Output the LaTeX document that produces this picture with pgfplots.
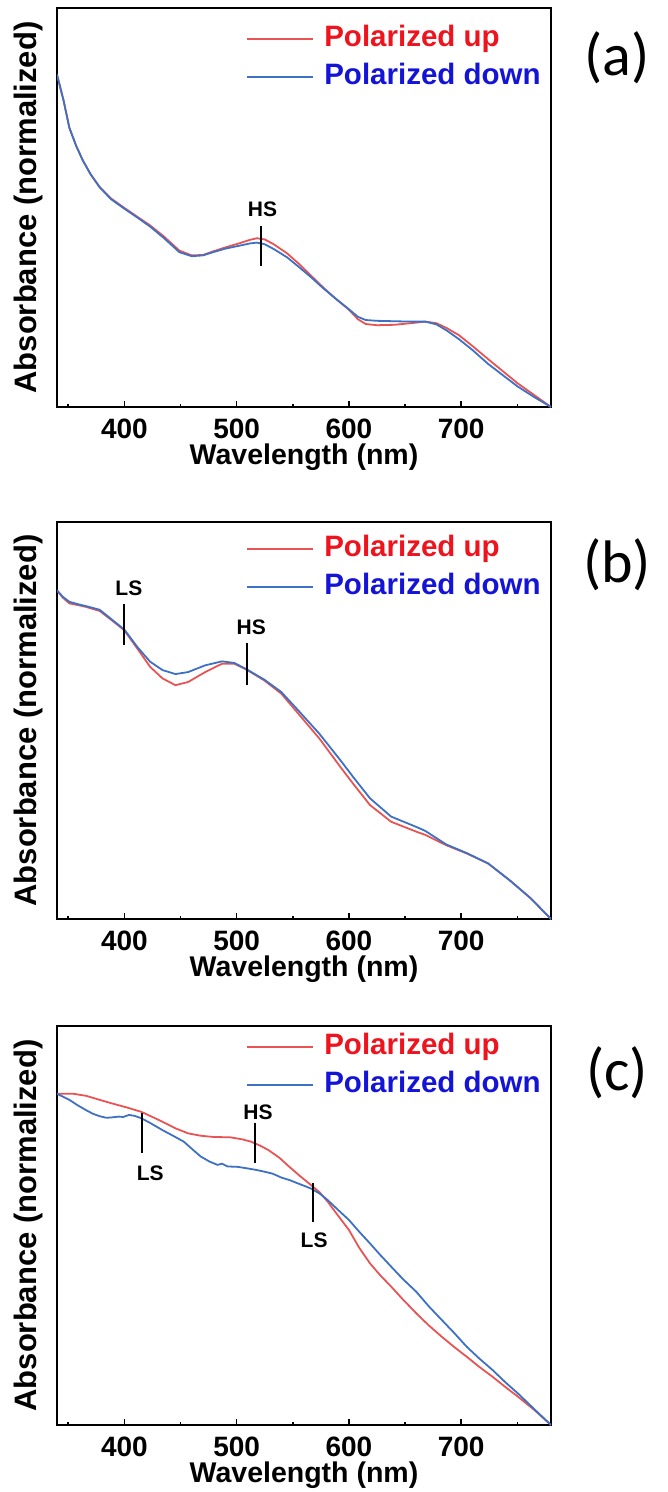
\documentclass[border=0pt]{standalone}
\usepackage{pgfplots}
\pgfplotsset{compat=1.18}
\usepackage{fontspec}
\setmainfont{Liberation Sans}
\newfontfamily\carlito{Carlito}
\definecolor{cred}{RGB}{232,84,84}
\definecolor{cblue}{RGB}{62,112,196}
\definecolor{tred}{RGB}{238,20,30}
\definecolor{tblue}{RGB}{20,20,215}

\tikzset{mlab/.style={font=\fontsize{21}{22}\selectfont\bfseries}}
\pgfplotsset{
  panel/.style={
    scale only axis, width=494pt, height=399pt,
    xmin=340, xmax=780, ymin=0, ymax=1,
    axis line style={line width=2pt},
    xtick={400,500,600,700}, xticklabels={400,500,600,700},
    minor xtick={350,450,550,650,750},
    ytick=\empty,
    xtick pos=left, tick align=inside,
    major tick length=6pt, minor tick length=3pt,
    every tick/.append style={black, line width=1.5pt},
    xticklabel style={font=\fontsize{28}{30}\selectfont\bfseries, anchor=center, yshift=-22pt},
    xlabel={Wavelength (nm)},
    ylabel={Absorbance (normalized)},
    every axis x label/.style={at={(axis description cs:0.5,-0.127)}, anchor=center, font=\fontsize{28.5}{30}\selectfont\bfseries},
    every axis y label/.style={at={(axis description cs:-0.057,0.5)}, rotate=90, anchor=center, font=\fontsize{31}{33}\selectfont\bfseries},
    legend cell align=left,
    legend image code/.code={\draw[##1] (0pt,0pt) -- (66pt,0pt);},
    legend style={draw=none, fill=none, inner sep=0pt, outer sep=0pt,
      row sep=11pt, column sep=10pt,
      font=\fontsize{29.5}{31}\selectfont\bfseries,
      nodes={inner sep=0pt, text height=21pt, text depth=6pt}},
  },
  cu/.style={cred, line width=1.8pt},
  cd/.style={cblue, line width=1.8pt},
  mk/.style={black, line width=2pt, forget plot},
}

\begin{document}
\begin{tikzpicture}
\useasboundingbox (0,0) rectangle (667pt,-1492pt);

% ---------------- (a)
\begin{axis}[panel, name=pa, at={(57pt,-407pt)}, anchor=south west,
  legend style={at={(axis description cs:0.3836,0.956)}, anchor=north west}]
\addplot[cu] coordinates {
(340,0.833)(345.7,0.77)(351,0.70)(357,0.655)(363,0.618)(370,0.583)(378,0.551)
(388,0.523)(400,0.499)(412,0.476)(423,0.455)(435,0.428)(449,0.392)(460,0.380)
(470,0.381)(479,0.390)(490,0.400)(502,0.410)(512,0.419)(518,0.423)(525,0.420)
(533,0.408)(545,0.385)(555,0.360)(566,0.330)(577,0.300)(588,0.272)(600,0.244)
(608,0.220)(615,0.208)(625,0.205)(640,0.206)(655,0.210)(668,0.214)(678,0.210)
(687,0.198)(698,0.180)(710,0.153)(724,0.120)(737,0.090)(750,0.060)(765,0.030)(780,0.0)};
\addlegendentry{\textcolor{tred}{Polarized up}}
\addplot[cd] coordinates {
(340,0.833)(345.7,0.77)(351,0.70)(357,0.655)(363,0.618)(370,0.583)(378,0.551)
(388,0.521)(400,0.497)(412,0.474)(423,0.452)(435,0.424)(449,0.388)(460,0.378)
(470,0.380)(479,0.388)(490,0.397)(502,0.404)(512,0.410)(518,0.412)(525,0.408)
(533,0.396)(545,0.375)(555,0.352)(566,0.326)(577,0.298)(588,0.272)(600,0.245)
(608,0.226)(615,0.218)(625,0.216)(640,0.215)(655,0.214)(668,0.214)(678,0.207)
(687,0.192)(698,0.170)(710,0.143)(724,0.108)(737,0.080)(750,0.052)(765,0.025)(780,0.0)};
\addlegendentry{\textcolor{tblue}{Polarized down}}
\addplot[mk] coordinates {(522,0.453)(522,0.353)};
\node[mlab] at (axis cs:523,0.496) {HS};
\end{axis}
\node[font=\carlito\fontsize{60}{60}\selectfont] at ([xshift=66pt,yshift=-50pt]pa.north east) {(a)};

% ---------------- (b)
\begin{axis}[panel, name=pb, at={(57pt,-919pt)}, anchor=south west, height=397pt,
  legend style={at={(axis description cs:0.3836,0.967)}, anchor=north west}]
\addplot[cu] coordinates {
(340,0.828)(345,0.810)(351,0.795)(360,0.790)(366,0.786)(378,0.776)(389,0.752)
(400,0.727)(411.6,0.681)(423,0.635)(434,0.606)(445.5,0.589)(456.8,0.597)(472,0.622)
(487,0.643)(498,0.643)(509.5,0.627)(524.6,0.601)(539.7,0.568)(554.7,0.518)
(573.6,0.455)(592.4,0.383)(603.7,0.341)(618.8,0.287)(637.6,0.245)(660,0.220)
(668,0.212)(686.6,0.186)(705,0.165)(724,0.140)(743,0.098)(762,0.052)(780,0.0)};
\addlegendentry{\textcolor{tred}{Polarized up}}
\addplot[cd] coordinates {
(340,0.828)(345,0.812)(351,0.799)(360,0.792)(366,0.788)(378,0.779)(389,0.754)
(400,0.729)(411.6,0.685)(423,0.648)(434,0.627)(445.5,0.617)(456.8,0.622)(472,0.639)
(487,0.649)(498,0.645)(509.5,0.628)(524.6,0.603)(539.7,0.572)(554.7,0.526)
(573.6,0.467)(592.4,0.400)(603.7,0.358)(618.8,0.304)(637.6,0.258)(660,0.232)
(668,0.222)(686.6,0.188)(705,0.166)(724,0.140)(743,0.098)(762,0.052)(780,0.0)};
\addlegendentry{\textcolor{tblue}{Polarized down}}
\addplot[mk] coordinates {(399.5,0.794)(399.5,0.691)};
\addplot[mk] coordinates {(508.8,0.694)(508.8,0.589)};
\node[mlab] at (axis cs:404,0.832) {LS};
\node[mlab] at (axis cs:513,0.736) {HS};
\end{axis}
\node[font=\carlito\fontsize{60}{60}\selectfont] at ([xshift=66pt,yshift=-43pt]pb.north east) {(b)};

% ---------------- (c)
\begin{axis}[panel, name=pc, at={(57pt,-1425pt)}, anchor=south west,
  legend style={at={(axis description cs:0.3836,0.981)}, anchor=north west}]
\addplot[cu] coordinates {
(340,0.830)(355,0.830)(366,0.825)(378,0.815)(389,0.806)(402,0.796)(415,0.785)
(425,0.772)(434,0.760)(446,0.743)(456.8,0.731)(468,0.725)(479,0.722)(494.5,0.721)
(505,0.716)(513,0.710)(521,0.700)(528.4,0.689)(538,0.670)(547,0.647)(556,0.625)
(566,0.602)(574,0.583)(581,0.560)(590,0.526)(600,0.489)(609,0.445)(618.8,0.405)
(628,0.375)(637.6,0.347)(648,0.315)(660,0.280)(671,0.250)(682.8,0.221)(694,0.195)
(705,0.171)(716,0.146)(727.9,0.121)(739,0.096)(750.6,0.071)(765,0.038)(780,0.0)};
\addlegendentry{\textcolor{tred}{Polarized up}}
\addplot[cd] coordinates {
(340,0.830)(346,0.822)(351,0.815)(358,0.802)(366,0.789)(372,0.780)(378,0.774)
(384,0.770)(389,0.771)(395,0.773)(399,0.772)(404,0.777)(409,0.775)(415,0.769)
(423,0.757)(434,0.739)(444,0.724)(453,0.710)(461,0.690)(468,0.673)(476,0.660)
(483,0.652)(487,0.655)(492,0.648)(501,0.647)(510,0.643)(518,0.639)(524.6,0.635)
(532,0.630)(540,0.620)(547,0.614)(556,0.604)(566,0.593)(574,0.580)(581,0.564)
(590,0.540)(600,0.514)(609,0.485)(618.8,0.455)(628,0.426)(637.6,0.397)(648,0.366)
(660,0.334)(671,0.298)(682.8,0.263)(694,0.230)(705,0.196)(716,0.167)(727.9,0.138)
(739,0.108)(750.6,0.079)(765,0.040)(780,0.0)};
\addlegendentry{\textcolor{tblue}{Polarized down}}
\addplot[mk] coordinates {(416,0.781)(416,0.683)};
\addplot[mk] coordinates {(516,0.758)(516,0.657)};
\addplot[mk] coordinates {(568,0.606)(568,0.510)};
\node[mlab] at (axis cs:423,0.631) {LS};
\node[mlab] at (axis cs:519,0.785) {HS};
\node[mlab] at (axis cs:569,0.464) {LS};
\end{axis}
\node[font=\carlito\fontsize{60}{60}\selectfont] at ([xshift=66pt,yshift=-47pt]pc.north east) {(c)};
\end{tikzpicture}
\end{document}
